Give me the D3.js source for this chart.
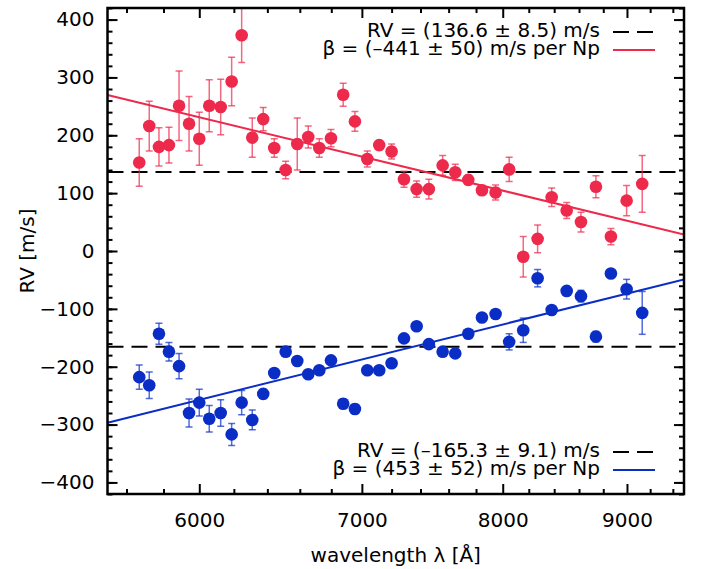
<!DOCTYPE html>
<html>
<head>
<meta charset="utf-8">
<script src="https://cdn.jsdelivr.net/npm/d3@7"></script>
<style>
  body { margin: 0; background: #fff; }
  text { font-family: "DejaVu Sans", "Liberation Sans", Arial, sans-serif; }
</style>
</head>
<body>
<div id="chart"></div>
<script>
// wavelength bins (Angstrom), shared by both series
var wavelength = [5668, 5722, 5775, 5830, 5886, 5942, 6000, 6057, 6123, 6187,
                  6246, 6309, 6375, 6442, 6512, 6584, 6653, 6723, 6798, 6877,
                  6954, 7036, 7116, 7200, 7285, 7373, 7459, 7557, 7648, 7743,
                  7844, 7946, 8049, 8157, 8269, 8380, 8500, 8616, 8739, 8864,
                  8997, 9131];

var rvRed = [153, 216, 180, 183, 251, 220, 194, 251, 249, 293,
             373, 196, 228, 178, 140, 185, 197, 178, 195, 270,
             224, 159, 183, 172, 124, 107, 107, 148, 136, 123,
             105, 101, 141, -10, 21, 93, 70, 50, 111, 25,
             87, 116];
var errRed = [41, 43, 33, 31, 60, 47, 46, 45, 48, 42,
              47, 34, 20, 16, 15, 45, 19, 16, 15, 20,
              17, 14, 8, 13, 14, 14, 17, 17, 14, 8,
              8, 13, 21, 35, 24, 16, 14, 17, 19, 14,
              26, 49];

var rvBlue = [-218, -232, -143, -174, -199, -280, -262, -290, -280, -317,
              -262, -292, -247, -211, -174, -190, -213, -206, -189, -264,
              -273, -206, -206, -194, -151, -130, -161, -174, -177, -143,
              -115, -109, -157, -137, -47, -102, -69, -78, -148, -39,
              -66, -107];
var errBlue = [21, 23, 18, 16, 22, 24, 23, 23, 23, 19,
               21, 17, 8, 6, 6, 6, 6, 6, 6, 8,
               8, 6, 6, 6, 6, 6, 6, 6, 6, 6,
               6, 6, 14, 21, 15, 6, 6, 10, 9, 6,
               17, 37];

// fitted mean RV and slope beta against ln(wavelength)
var fitRed = {rv: 136.6, beta: -441, lam0: 7436};
var fitBlue = {rv: -165.3, beta: 453, lam0: 7351};

var legendRed = ['RV = (136.6 \u00b1 8.5) m/s', '\u03b2 = (\u2013441 \u00b1 50) m/s per Np'];
var legendBlue = ['RV = (\u2013165.3 \u00b1 9.1) m/s', '\u03b2 = (453 \u00b1 52) m/s per Np'];

var xTicks = [6000, 7000, 8000, 9000];
var xMinor = [5600, 5800, 6200, 6400, 6600, 6800, 7200, 7400, 7600, 7800,
              8200, 8400, 8600, 8800, 9200, 9400];
var yTicks = [-400, -300, -200, -100, 0, 100, 200, 300, 400];

var W = 702
  , H = 569
  , pL = 107.5
  , pR = 684
  , pT = 8
  , pB = 494
  , FS = 20
  , red = '#ee2a4c'
  , blue = '#0a2dc6'
  ;

var x = d3.scaleLog().domain([5500, 9500]).range([pL, pR]);
var y = d3.scaleLinear().domain([-420, 420]).range([pB, pT]);

var svg = d3.select('#chart').append('svg')
            .attr('width', W).attr('height', H);

svg.append('clipPath').attr('id', 'clip')
  .append('rect')
  .attr('x', pL).attr('y', pT)
  .attr('width', pR - pL).attr('height', pB - pT);

function fmt(d) {
  return d < 0 ? '\u2212' + Math.abs(d) : String(d);
}

function styleAxis(g) {
  g.select('.domain').remove();
  g.selectAll('line').attr('stroke', '#000').attr('stroke-width', 2);
  g.selectAll('text').attr('font-size', FS).attr('fill', '#000')
    .attr('font-family', '"DejaVu Sans", "Liberation Sans", Arial, sans-serif');
}

var yMinor = d3.range(-420, 421, 20);

// minor ticks
svg.append('g').attr('transform', 'translate(0,' + pB + ')')
  .call(d3.axisBottom(x).tickValues(xMinor).tickSizeInner(-5).tickSizeOuter(0).tickFormat(''))
  .call(styleAxis);
svg.append('g').attr('transform', 'translate(0,' + pT + ')')
  .call(d3.axisTop(x).tickValues(xMinor).tickSizeInner(-5).tickSizeOuter(0).tickFormat(''))
  .call(styleAxis);
svg.append('g').attr('transform', 'translate(' + pL + ',0)')
  .call(d3.axisLeft(y).tickValues(yMinor).tickSizeInner(-5).tickSizeOuter(0).tickFormat(''))
  .call(styleAxis);
svg.append('g').attr('transform', 'translate(' + pR + ',0)')
  .call(d3.axisRight(y).tickValues(yMinor).tickSizeInner(-5).tickSizeOuter(0).tickFormat(''))
  .call(styleAxis);

// major ticks
svg.append('g').attr('transform', 'translate(0,' + pB + ')')
  .call(d3.axisBottom(x).tickValues(xTicks).tickSizeInner(-10).tickSizeOuter(0)
          .tickPadding(19).tickFormat(d3.format('d')))
  .call(styleAxis);
svg.append('g').attr('transform', 'translate(0,' + pT + ')')
  .call(d3.axisTop(x).tickValues(xTicks).tickSizeInner(-10).tickSizeOuter(0).tickFormat(''))
  .call(styleAxis);
svg.append('g').attr('transform', 'translate(' + pL + ',0)')
  .call(d3.axisLeft(y).tickValues(yTicks).tickSizeInner(-10).tickSizeOuter(0)
          .tickPadding(13).tickFormat(fmt))
  .call(styleAxis);
svg.append('g').attr('transform', 'translate(' + pR + ',0)')
  .call(d3.axisRight(y).tickValues(yTicks).tickSizeInner(-10).tickSizeOuter(0).tickFormat(''))
  .call(styleAxis);

var plot = svg.append('g').attr('clip-path', 'url(#clip)');

function drawSeries(rv, err, fit, color) {
  var pts = wavelength.map(function (w, i) {
    return {w: w, rv: rv[i], e: err[i]};
  });

  // mean RV dashed
  plot.append('line')
    .attr('x1', pL).attr('x2', pR)
    .attr('y1', y(fit.rv)).attr('y2', y(fit.rv))
    .attr('stroke', '#000').attr('stroke-width', 2)
    .attr('stroke-dasharray', '16,8');

  // linear fit in ln(lambda)
  var line = d3.line()
    .x(function (d) { return x(d); })
    .y(function (d) { return y(fit.rv + fit.beta * Math.log(d / fit.lam0)); });
  plot.append('path')
    .attr('d', line(x.domain()))
    .attr('fill', 'none')
    .attr('stroke', color).attr('stroke-width', 2);

  var eb = plot.append('g')
    .attr('stroke', color).attr('stroke-opacity', 0.7).attr('stroke-width', 1.5);
  eb.selectAll('line.bar').data(pts).enter()
    .append('line').attr('class', 'bar')
    .attr('x1', function (d) { return x(d.w); })
    .attr('x2', function (d) { return x(d.w); })
    .attr('y1', function (d) { return y(d.rv + d.e); })
    .attr('y2', function (d) { return y(d.rv - d.e); });
  eb.selectAll('line.capt').data(pts).enter()
    .append('line').attr('class', 'capt')
    .attr('x1', function (d) { return x(d.w) - 3.5; })
    .attr('x2', function (d) { return x(d.w) + 3.5; })
    .attr('y1', function (d) { return y(d.rv + d.e); })
    .attr('y2', function (d) { return y(d.rv + d.e); });
  eb.selectAll('line.capb').data(pts).enter()
    .append('line').attr('class', 'capb')
    .attr('x1', function (d) { return x(d.w) - 3.5; })
    .attr('x2', function (d) { return x(d.w) + 3.5; })
    .attr('y1', function (d) { return y(d.rv - d.e); })
    .attr('y2', function (d) { return y(d.rv - d.e); });

  plot.append('g').selectAll('circle').data(pts).enter()
    .append('circle')
    .attr('cx', function (d) { return x(d.w); })
    .attr('cy', function (d) { return y(d.rv); })
    .attr('r', 6.3)
    .attr('fill', color);
}

drawSeries(rvRed, errRed, fitRed, red);
drawSeries(rvBlue, errBlue, fitBlue, blue);

// frame
svg.append('rect')
  .attr('x', pL).attr('y', pT)
  .attr('width', pR - pL).attr('height', pB - pT)
  .attr('fill', 'none').attr('stroke', '#000').attr('stroke-width', 2.5);

// legends
function legend(texts, color, base) {
  var g = svg.append('g');
  g.selectAll('text').data(texts).enter()
    .append('text')
    .attr('x', 600)
    .attr('y', function (d, i) { return base + i * 18; })
    .attr('text-anchor', 'end')
    .attr('font-size', FS)
    .text(function (d) { return d; });
  g.append('line')
    .attr('x1', 613).attr('x2', 655)
    .attr('y1', base - 4.5).attr('y2', base - 4.5)
    .attr('stroke', '#000').attr('stroke-width', 2)
    .attr('stroke-dasharray', '16,8');
  g.append('line')
    .attr('x1', 613).attr('x2', 655)
    .attr('y1', base + 13.5).attr('y2', base + 13.5)
    .attr('stroke', color).attr('stroke-width', 2);
}

legend(legendRed, red, 36.5);
legend(legendBlue, blue, 456.5);

// axis titles
svg.append('text')
  .attr('x', (pL + pR) / 2).attr('y', 562)
  .attr('text-anchor', 'middle')
  .attr('font-size', FS)
  .text('wavelength \u03bb [\u00c5]');

svg.append('text')
  .attr('transform', 'translate(34,' + (pT + pB) / 2 + ') rotate(-90)')
  .attr('text-anchor', 'middle')
  .attr('font-size', FS)
  .text('RV [m/s]');
</script>
</body>
</html>
